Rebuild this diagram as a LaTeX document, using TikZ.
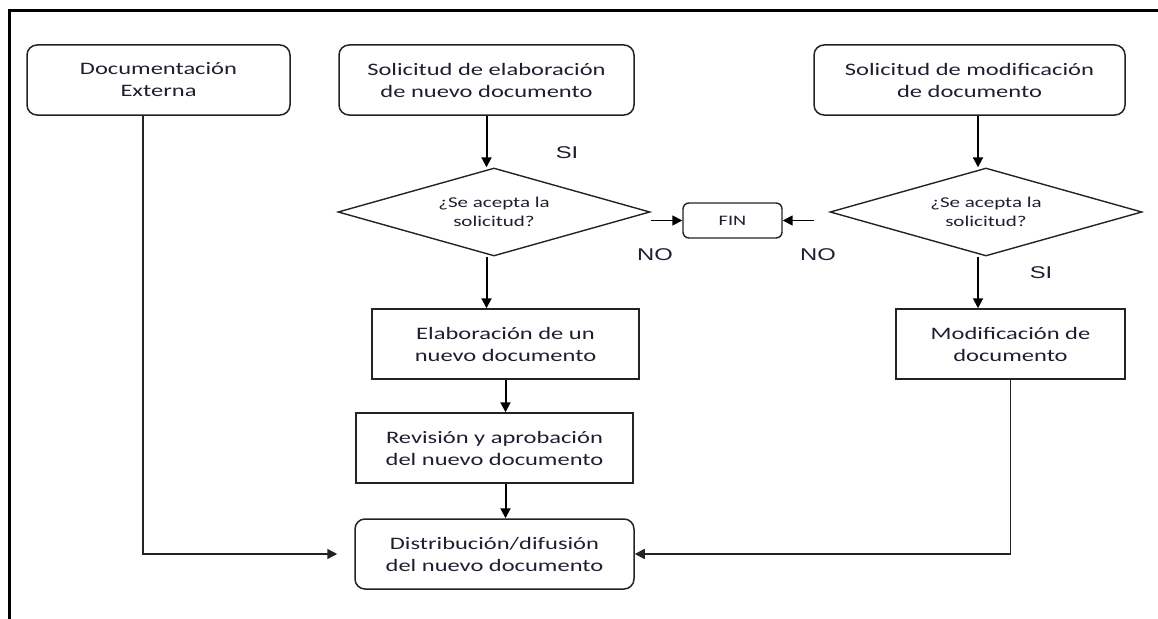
\documentclass[tikz,border=0pt]{standalone}
\usepackage{fontspec}
\setmainfont{Carlito}[FakeStretch=1.4]
\newfontfamily\labfont{Liberation Sans}[FakeStretch=1.4]
\usetikzlibrary{shapes.geometric,arrows.meta}
\definecolor{ink}{RGB}{30,30,48}
\definecolor{edge}{RGB}{35,35,35}

\begin{document}
\begin{tikzpicture}[x=1pt,y=-1pt,
  every node/.style={text=ink, align=center, inner sep=0pt,
    font=\fontsize{17.5}{22}\selectfont},
  roundbox/.style={draw=edge, line width=1.5pt, rounded corners=10pt,
    minimum height=70pt},
  plainbox/.style={draw=edge, line width=1.5pt, minimum height=70pt},
  decision/.style={draw=edge, line width=1.4pt, diamond, aspect=3.5,
    minimum width=312pt, minimum height=88pt,
    font=\fontsize{15}{19}\selectfont},
  endbox/.style={draw=edge, line width=1.4pt, rounded corners=6pt,
    minimum width=99pt, minimum height=35pt,
    font=\fontsize{14.5}{18}\selectfont},
  answer/.style={font=\labfont\fontsize{17}{20}\selectfont},
  flow/.style={-{Triangle[length=10pt,width=10pt]}, line width=2pt, draw=black},
  sideflow/.style={-{Triangle[length=10pt,width=10pt]}, line width=1.6pt, draw=edge},
]
\useasboundingbox (0,0) rectangle (1158,618);

% outer frame
\draw[line width=3pt, line join=miter] (9,620) -- (9,10.5) -- (1160,10.5);

% top row
\node[roundbox, minimum width=263pt] (doc)  at (158.5,80) {Documentación\\Externa};
\node[roundbox, minimum width=295pt] (sol1) at (486.5,80) {Solicitud de elaboración\\de nuevo documento};
\node[roundbox, minimum width=311pt] (sol2) at (969.5,80) {Solicitud de modificación\\de documento};

% decisions and end
\node[decision] (d1) at (494,212) {¿Se acepta la\\solicitud?};
\node[decision] (d2) at (986,212) {¿Se acepta la\\solicitud?};
\node[endbox] (fin) at (732.5,220.5) {FIN};

% process boxes
\node[plainbox, minimum width=267pt] (elab) at (505.5,344) {Elaboración de un\\nuevo documento};
\node[plainbox, minimum width=229pt] (mod)  at (1010.5,344) {Modificación de\\documento};
\node[plainbox, minimum width=277pt] (rev)  at (494.5,448) {Revisión y aprobación\\del nuevo documento};
\node[roundbox, minimum width=279pt] (dist) at (494.5,554) {Distribución/difusión\\del nuevo documento};

% answer labels
\node[answer] (si1) at (567,153) {SI};
\node[answer] (no1) at (655,255) {NO};
\node[answer] (no2) at (818,255) {NO};
\node[answer] (si2) at (1041,273) {SI};

% connector columns
\coordinate (lx) at (143,0);
\coordinate (rx) at (978,0);

% left branch
\draw[flow] (sol1.south) -- (sol1.south |- d1.north);
\draw[flow] (sol1.south |- d1.south) -- (sol1.south |- elab.north);
\draw[flow] (elab.south) -- (elab.south |- rev.north);
\draw[flow] (rev.south -| elab.south) -- (dist.north -| elab.south);

% right branch
\draw[flow] (rx |- sol2.south) -- (rx |- d2.north);
\draw[flow] (rx |- d2.south) -- (rx |- mod.north);

% rejection paths to FIN
\draw[sideflow, draw=black] (d1.east |- fin.west) -- (fin.west);
\draw[sideflow, draw=black] ([xshift=-15pt]d2.west |- fin.east) -- (fin.east);

% feeds into distribution
\draw[sideflow] (lx |- doc.south) |- ([xshift=-17pt]dist.west);
\draw[sideflow] (mod.south) |- (dist.east);
\end{tikzpicture}
\end{document}
